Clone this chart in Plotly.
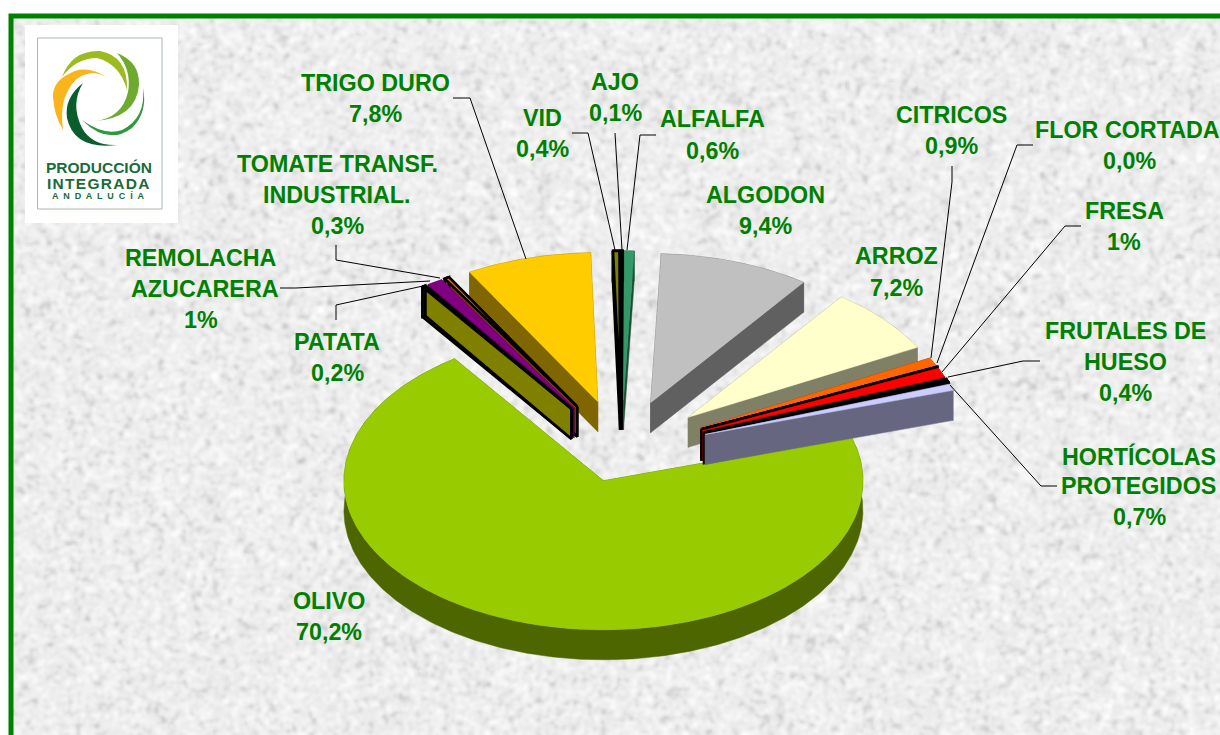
import base64, struct, zlib
import numpy as np
import plotly.graph_objects as go

# ---- data, clockwise from the start angle of the pie ----
crops = ["PATATA", "REMOLACHA AZUCARERA", "TOMATE TRANSF. INDUSTRIAL.", "TRIGO DURO", "VID", "AJO",
         "ALFALFA", "ALGODON", "ARROZ", "CITRICOS", "FLOR CORTADA", "FRESA",
         "FRUTALES DE HUESO", "HORTÍCOLAS PROTEGIDOS", "OLIVO"]
shares = [0.2, 1.0, 0.3, 7.8, 0.4, 0.1, 0.6, 9.4, 7.2, 0.9, 0.0, 1.0, 0.4, 0.7, 70.2]
top_colors = ["#FFFF00", "#800080", "#FF6600", "#FFCC00", "#808000", "#000000", "#339966", "#C0C0C0",
              "#FFFFCC", "#FF6600", "#000000", "#FF0000", "#000000", "#CCCCFF", "#99CC00"]
side_colors = ["#808000", "#400040", "#804000", "#806600", "#404000", "#000000", "#1A4D33", "#606060",
               "#808066", "#803300", "#000000", "#800000", "#000000", "#666680", "#4D6600"]
outlined = ["PATATA", "TOMATE TRANSF. INDUSTRIAL.", "VID", "AJO", "FLOR CORTADA", "FRUTALES DE HUESO"]

# ---- label text: (x, y, text) ----
label_lines = [
    (375, 83, "TRIGO DURO"), (375, 114, "7,8%"),
    (615, 82, "AJO"), (615, 113, "0,1%"),
    (542, 118, "VID"), (542, 149, "0,4%"),
    (712, 119, "ALFALFA"), (712, 151, "0,6%"),
    (765, 195, "ALGODON"), (765, 226, "9,4%"),
    (896, 256, "ARROZ"), (896, 288, "7,2%"),
    (951, 115, "CITRICOS"), (951, 146, "0,9%"),
    (1127, 130, "FLOR CORTADA"), (1129, 161, "0,0%"),
    (1124, 211, "FRESA"), (1124, 242, "1%"),
    (1125, 331, "FRUTALES DE"), (1125, 362, "HUESO"), (1125, 393, "0,4%"),
    (1139, 456, "HORTÍCOLAS"), (1138, 486, "PROTEGIDOS"), (1139, 517, "0,7%"),
    (337, 164, "TOMATE TRANSF."), (337, 195, "INDUSTRIAL."), (337, 226, "0,3%"),
    (201, 258, "REMOLACHA"), (205, 289, "AZUCARERA"), (201, 320, "1%"),
    (337, 342, "PATATA"), (337, 373, "0,2%"),
    (329, 601, "OLIVO"), (329, 632, "70,2%"),
]
leaders = [
    "M453 98 L470 98 L526 259", "M572 133 L588 133 L615 250", "M615 133 L622 250",
    "M656 135 L640 135 L627 250", "M952 166 L952 182 L931 358", "M1033 145 L1017 145 L937 363",
    "M1081 226 L1065 226 L942 372", "M1040 361 L1023 361 L948 377", "M950 385 L1041 486 L1057 486",
    "M336 245 L336 260 L440 278", "M280 288 L296 288 L430 281", "M336 320 L336 305 L423 286",
]

# ---- pie geometry ----
CX, CY, RX, RY, DEPTH = 621.5, 450.5, 259.5, 149.0, 30.0
START_DEG = 125.0
EXPLODE, EXPLODE_MAIN = 0.34, 0.215
draw_order = [14, 7, 3, 6, 5, 4, 8, 9, 10, 11, 12, 13, 2, 1, 0]

total = sum(shares)
ends = np.cumsum(shares) / total * 360.0
a_from = START_DEG - np.concatenate([[0.0], ends[:-1]])
a_to = START_DEG - ends


def wedge(i):
    """Top surface and wall outlines of slice i, from its share of the total."""
    mid = np.radians((a_from[i] + a_to[i]) / 2)
    e = EXPLODE_MAIN if crops[i] == "OLIVO" else EXPLODE
    ax, ay = CX + e * RX * np.cos(mid), CY - e * RY * np.sin(mid)
    n = max(int(abs(a_from[i] - a_to[i]) * 1.5), 2)
    t = np.radians(np.linspace(a_from[i], a_to[i], n))
    ex, ey = ax + RX * np.cos(t), ay - RY * np.sin(t)
    top = ([ax, *ex, ax], [ay, *ey, ay])
    walls = [
        ([ax, ex[0], ex[0], ax, ax], [ay, ey[0], ey[0] + DEPTH, ay + DEPTH, ay]),
        ([ax, ex[-1], ex[-1], ax, ax], [ay, ey[-1], ey[-1] + DEPTH, ay + DEPTH, ay]),
        ([*ex, *ex[::-1], ex[0]], [*ey, *(ey[::-1] + DEPTH), ey[0]]),
    ]
    return top, walls


fig = go.Figure()
for i in draw_order:
    top, walls = wedge(i)
    has_line = crops[i] in outlined
    line = dict(color="#000000", width=2.6) if has_line else dict(color=side_colors[i], width=0.5)
    line_top = dict(color="#000000", width=2.6) if has_line else dict(color=top_colors[i], width=0.5)
    for wx, wy in walls:
        fig.add_trace(go.Scatter(x=wx, y=wy, mode="lines", fill="toself", fillcolor=side_colors[i],
                                 line=line, hoverinfo="skip", showlegend=False))
    fig.add_trace(go.Scatter(x=top[0], y=top[1], mode="lines", fill="toself", fillcolor=top_colors[i],
                             line=line_top, name=crops[i], showlegend=False,
                             hovertemplate=f"{crops[i]}: {shares[i]}%<extra></extra>"))


# ---- speckled paper background ----
def texture_png(w, h):
    yy, xx = np.mgrid[0:h, 0:w].astype(float)
    base = np.sin(xx * 12.9898 + yy * 78.233) * 43758.5453
    base = base - np.floor(base)
    spec = np.fft.fft2(base - base.mean())
    fy = np.fft.fftfreq(h)[:, None]
    fx = np.fft.fftfreq(w)[None, :]
    soft = np.real(np.fft.ifft2(spec * np.exp(-(fx ** 2 + fy ** 2) * 2 * (np.pi * 1.0) ** 2)))
    soft = soft / soft.std()
    gray = np.clip(238 + soft * 5 - np.clip(-soft - 0.9, 0, None) * 7, 0, 255).astype(np.uint8)
    raw = b"".join(b"\x00" + gray[r].tobytes() for r in range(h))

    def chunk(tag, payload):
        return (struct.pack(">I", len(payload)) + tag + payload +
                struct.pack(">I", zlib.crc32(tag + payload) & 0xFFFFFFFF))

    png = (b"\x89PNG\r\n\x1a\n" + chunk(b"IHDR", struct.pack(">IIBBBBB", w, h, 8, 0, 0, 0, 0)) +
           chunk(b"IDAT", zlib.compress(raw, 9)) + chunk(b"IEND", b""))
    return "data:image/png;base64," + base64.b64encode(png).decode()


shapes = [
    dict(type="rect", x0=11, y0=16, x1=1260, y1=780, line=dict(color="#008000", width=5), layer="above"),
    dict(type="rect", x0=25, y0=25, x1=178, y1=223, fillcolor="#FFFFFF", line=dict(width=0), layer="above"),
    dict(type="rect", x0=37.5, y0=38, x1=162, y1=209, line=dict(color="#A9B8A9", width=1), layer="above"),
]
for d in leaders:
    shapes.append(dict(type="path", path=d, line=dict(color="#000000", width=1), layer="above"))

# logo swirl
logo_swirl = [
    ("#9BBB1E", "M62 77 Q72 50 100 51 Q128 56 127 90 Q120 64 97 58 Q76 58 62 77 Z"),
    ("#6DAA2D", "M117 53 Q140 62 139 85 Q136 118 95 121 Q122 118 128 92 Q132 70 117 53 Z"),
    ("#2E9A3B", "M143 88 Q148 112 132 128 Q108 146 82 120 Q104 136 122 130 Q146 118 143 88 Z"),
    ("#0B5E2C", "M83 83 Q64 98 67 118 Q74 150 117 145 Q92 146 82 128 Q70 104 83 83 Z"),
    ("#F9B51B", "M110 79 Q90 66 75 71 Q52 80 53 97 Q54 115 63 130 Q60 105 67 93 Q75 74 93 73 Q103 74 110 79 Z"),
]
for color, d in logo_swirl:
    shapes.append(dict(type="path", path=d, fillcolor=color, line=dict(width=0), layer="above"))

annotations = [
    dict(x=x, y=y, text=f"<b>{t}</b>", showarrow=False, xanchor="center", yanchor="middle",
         font=dict(family="Liberation Sans", size=23.3, color="#008000"))
    for x, y, t in label_lines
]
for x, y, t, size in [(98.5, 167, "<b>PRODUCCIÓN</b>", 15.5),
                      (98.5, 183, "<b>I\u200aN\u200aT\u200aE\u200aG\u200aR\u200aA\u200aD\u200aA</b>", 15.5),
                      (98.5, 196, "<b>A  N  D  A  L  U  C  Í  A</b>", 9)]:
    annotations.append(dict(x=x, y=y, text=t, showarrow=False, xanchor="center", yanchor="middle",
                            font=dict(family="Liberation Sans", size=size, color="#1A6B3A")))

fig.update_layout(
    width=1220, height=735, margin=dict(l=0, r=0, t=0, b=0),
    paper_bgcolor="#FFFFFF", plot_bgcolor="rgba(0,0,0,0)",
    xaxis=dict(range=[0, 1220], visible=False, fixedrange=True),
    yaxis=dict(range=[735, 0], visible=False, fixedrange=True),
    images=[dict(source=texture_png(610, 368), xref="x", yref="y", x=11, y=16, sizex=1209, sizey=719,
                 sizing="stretch", layer="below", xanchor="left", yanchor="top")],
    shapes=shapes, annotations=annotations,
)

fig.write_html("out.html", config=dict(displayModeBar=False),
               post_script="document.body.style.margin='0';document.body.style.overflow='hidden';")
